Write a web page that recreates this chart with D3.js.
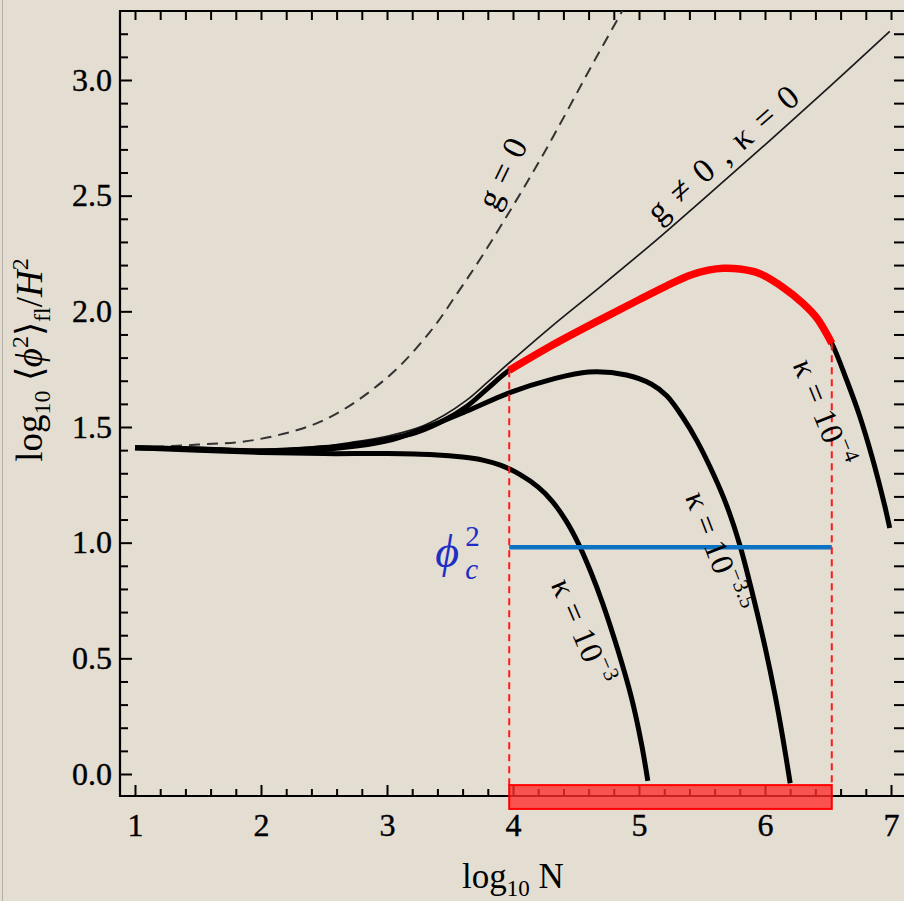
<!DOCTYPE html>
<html>
<head>
<meta charset="utf-8">
<script src="https://cdn.jsdelivr.net/npm/d3@7"></script>
<style>
  body { margin: 0; background: #e4ddd2; }
  svg { display: block; }
</style>
</head>
<body>
<div id="chart"></div>
<script>
// curves: [log10 N, log10 <phi^2>/H^2]
const gZero = [
  [1.0, 1.41], [1.5, 1.424], [1.95, 1.444], [2.5, 1.53], [3.0, 1.713],
  [3.34, 1.91], [3.56, 2.08], [3.75, 2.235], [4.0, 2.456], [4.25, 2.688],
  [4.65, 3.087], [4.9, 3.33]
];
const gNonZero = [
  [1.0, 1.41], [1.5, 1.405], [2.0, 1.40], [2.5, 1.418], [2.71, 1.433],
  [3.0, 1.46], [3.24, 1.495], [3.45, 1.55], [3.635, 1.617], [3.8, 1.695],
  [3.98, 1.782], [4.3, 1.932], [4.69, 2.105], [5.14, 2.309], [5.5, 2.48],
  [6.0, 2.72], [6.5, 2.965], [6.99, 3.21]
];
const kappa4 = [
  [1.0, 1.41], [1.5, 1.405], [2.0, 1.397], [2.5, 1.41], [2.71, 1.423],
  [3.0, 1.447], [3.24, 1.478], [3.45, 1.528], [3.635, 1.59], [3.8, 1.667],
  [3.97, 1.745], [4.3, 1.85], [4.69, 1.963], [5.0, 2.05], [5.22, 2.11],
  [5.4, 2.155], [5.55, 2.178], [5.67, 2.186], [5.8, 2.183], [5.95, 2.165],
  [6.14, 2.105], [6.3, 2.035], [6.41, 1.972], [6.53, 1.862], [6.65, 1.70],
  [6.75, 1.55], [6.85, 1.37], [6.95, 1.16], [6.99, 1.063]
];
const kappa35 = [
  [1.0, 1.41], [1.5, 1.405], [2.0, 1.395], [2.5, 1.403], [3.0, 1.44],
  [3.3, 1.495], [3.63, 1.568], [3.98, 1.65], [4.3, 1.705], [4.6, 1.738],
  [4.9, 1.725], [5.1, 1.685], [5.22, 1.635], [5.35, 1.54], [5.46, 1.44],
  [5.6, 1.285], [5.7, 1.155], [5.8, 0.99], [5.905, 0.77], [6.0, 0.55],
  [6.08, 0.34], [6.14, 0.16], [6.2, -0.04]
];
const kappa3 = [
  [1.0, 1.41], [1.5, 1.40], [2.0, 1.39], [2.5, 1.385], [3.0, 1.385],
  [3.37, 1.38], [3.6, 1.37], [3.76, 1.357], [3.9, 1.335], [4.06, 1.293],
  [4.2, 1.24], [4.31, 1.18], [4.42, 1.095], [4.52, 0.995], [4.62, 0.87],
  [4.71, 0.74], [4.83, 0.54], [4.94, 0.33], [5.02, 0.13], [5.07, -0.03]
];

const xTicks = [1, 2, 3, 4, 5, 6, 7];
const yTicks = [0, 0.5, 1, 1.5, 2, 2.5, 3];
const nWindow = [3.97, 6.53];   // red band on the N axis
const phiC = 0.98;              // log10 phi_c^2

const width = 904, height = 901;
const frame = { left: 120, right: 905, top: 11, bottom: 796 };
const serif = "'Liberation Serif', 'Times New Roman', serif";

const x = d3.scaleLinear().domain([1, 7]).range([135, 891]);
const y = d3.scaleLinear().domain([0, 3]).range([774, 80]);

const svg = d3.select("#chart").append("svg")
  .attr("width", width)
  .attr("height", height);

svg.append("rect")
  .attr("width", width).attr("height", height)
  .attr("fill", "#e4ddd2");

svg.append("line")
  .attr("x1", 2.5).attr("x2", 2.5).attr("y1", 0).attr("y2", height)
  .attr("stroke", "#b4aea4").attr("stroke-width", 1);

// ticks
const minorX = d3.range(1, 7.01, 0.2).map(d => +d.toFixed(1));
const minorY = d3.range(0, 3.25, 0.1).map(d => +d.toFixed(1)).filter(d => !yTicks.includes(d));

function styleAxis(g) {
  g.select(".domain").remove();
  g.selectAll(".tick line").attr("stroke", "#000").attr("stroke-width", 2);
  g.selectAll(".tick text")
    .attr("fill", "#000")
    .attr("stroke", "#000")
    .attr("stroke-width", 0.4)
    .style("font-family", serif)
    .style("font-size", "32px");
}

svg.append("g")
  .attr("transform", `translate(0,${frame.bottom})`)
  .call(d3.axisBottom(x).tickValues(xTicks).tickSize(-11).tickPadding(17).tickFormat(d3.format("d")))
  .call(styleAxis);
svg.append("g")
  .attr("transform", `translate(0,${frame.bottom})`)
  .call(d3.axisBottom(x).tickValues(minorX.filter(d => !xTicks.includes(d))).tickSize(-7).tickFormat(""))
  .call(styleAxis);
svg.append("g")
  .attr("transform", `translate(0,${frame.top})`)
  .call(d3.axisTop(x).tickValues(minorX).tickSize(-9).tickFormat(""))
  .call(styleAxis);
svg.append("g")
  .attr("transform", `translate(${frame.left},0)`)
  .call(d3.axisLeft(y).tickValues(yTicks).tickSize(-12).tickPadding(8).tickFormat(d3.format(".1f")))
  .call(styleAxis);
svg.append("g")
  .attr("transform", `translate(${frame.left},0)`)
  .call(d3.axisLeft(y).tickValues(minorY).tickSize(-8).tickFormat(""))
  .call(styleAxis);
svg.append("g")
  .attr("transform", `translate(${frame.right},0)`)
  .call(d3.axisRight(y).tickValues(yTicks.concat(minorY)).tickSize(-11).tickFormat(""))
  .call(styleAxis);

// frame
svg.append("path")
  .attr("d", `M${frame.right},${frame.top}H${frame.left}V${frame.bottom}H${frame.right}`)
  .attr("fill", "none")
  .attr("stroke", "#000")
  .attr("stroke-width", 2.2);

svg.append("clipPath").attr("id", "plot-clip")
  .append("rect")
  .attr("x", frame.left).attr("y", frame.top)
  .attr("width", frame.right - frame.left).attr("height", frame.bottom - frame.top);

const plot = svg.append("g").attr("clip-path", "url(#plot-clip)");

const line = d3.line()
  .x(d => x(d[0]))
  .y(d => y(d[1]))
  .curve(d3.curveCatmullRom.alpha(0.5));

plot.append("path")
  .attr("d", line(gZero))
  .attr("fill", "none").attr("stroke", "#333")
  .attr("stroke-width", 2).attr("stroke-dasharray", "11,7");

plot.append("path")
  .attr("d", line(gNonZero))
  .attr("fill", "none").attr("stroke", "#1a1a1a")
  .attr("stroke-width", 1.7);

[kappa4, kappa35, kappa3].forEach(series => {
  plot.append("path")
    .attr("d", line(series))
    .attr("fill", "none").attr("stroke", "#000")
    .attr("stroke-width", 5);
});

// red part of the kappa = 1e-4 curve inside the N window
plot.append("path")
  .attr("d", line(kappa4.filter(d => d[0] >= nWindow[0] && d[0] <= nWindow[1])))
  .attr("fill", "none").attr("stroke", "#ff0000")
  .attr("stroke-width", 7.5);

// critical value
svg.append("line")
  .attr("x1", x(nWindow[0])).attr("x2", x(nWindow[1]))
  .attr("y1", y(phiC)).attr("y2", y(phiC))
  .attr("stroke", "#0c72c4").attr("stroke-width", 4.5);

// dashed guides down to the band
const bandTop = -0.048, bandBottom = -0.151;
nWindow.forEach(n => {
  const top = kappa4.find(d => d[0] === n)[1];
  svg.append("line")
    .attr("x1", x(n)).attr("x2", x(n))
    .attr("y1", y(top)).attr("y2", y(bandTop))
    .attr("stroke", "#ff1a1a").attr("stroke-width", 2)
    .attr("stroke-dasharray", "7,5");
});

svg.append("rect")
  .attr("x", x(nWindow[0])).attr("y", y(bandTop))
  .attr("width", x(nWindow[1]) - x(nWindow[0]))
  .attr("height", y(bandBottom) - y(bandTop))
  .attr("fill", "#ff2a2a").attr("fill-opacity", 0.78)
  .attr("stroke", "#ff0000").attr("stroke-width", 2);

// curve labels
function curveLabel(nx, ny, angle, parts, size, spacing) {
  const t = svg.append("text")
    .attr("transform", `translate(${x(nx)},${y(ny)}) rotate(${angle})`)
    .attr("text-anchor", "middle")
    .attr("dy", "0.35em")
    .style("font-family", serif)
    .style("font-size", size + "px")
    .style("letter-spacing", spacing + "px")
    .attr("fill", "#000");
  parts.forEach(p => {
    const s = t.append("tspan").text(p.t);
    if (p.sup) s.attr("dy", -0.42 * size).style("font-size", (0.68 * size) + "px");
  });
}

curveLabel(3.91, 2.60, -64, [{ t: "g = 0" }], 34, 1);
curveLabel(5.667, 2.685, -41, [{ t: "g ≠ 0 , κ = 0" }], 34, 2);
curveLabel(6.468, 1.561, 68, [{ t: "κ = 10" }, { t: "−4", sup: true }], 32, 1);
curveLabel(5.627, 0.960, 69, [{ t: "κ = 10" }, { t: "−3.5", sup: true }], 32, 0.5);
curveLabel(4.556, 0.614, 67, [{ t: "κ = 10" }, { t: "−3", sup: true }], 32, 1);

// phi_c^2 label
const phiLabel = svg.append("g")
  .attr("transform", `translate(${x(nWindow[0]) - 74},${y(phiC) + 20})`)
  .attr("fill", "#1d2fc4")
  .style("font-family", serif);
phiLabel.append("text").attr("font-style", "italic").style("font-size", "46px").text("ϕ");
phiLabel.append("text").attr("x", 30).attr("y", -21).style("font-size", "29px").text("2");
phiLabel.append("text").attr("x", 30).attr("y", 12).attr("font-style", "italic").style("font-size", "29px").text("c");

// axis titles
const xTitle = svg.append("text")
  .attr("x", 513).attr("y", 888)
  .attr("text-anchor", "middle")
  .style("font-family", serif)
  .style("font-size", "35px")
  .attr("fill", "#000");
xTitle.append("tspan").text("log");
xTitle.append("tspan").attr("dy", 8).style("font-size", "23px").text("10");
xTitle.append("tspan").attr("dy", -8).text(" N");

const yTitle = svg.append("text")
  .attr("transform", "translate(42,360) rotate(-90)")
  .attr("text-anchor", "middle")
  .style("font-family", serif)
  .style("font-size", "37px")
  .attr("fill", "#000");
yTitle.append("tspan").text("log");
yTitle.append("tspan").attr("dy", 8).style("font-size", "24px").text("10");
yTitle.append("tspan").attr("dy", -8).text(" ⟨");
yTitle.append("tspan").attr("font-style", "italic").text("ϕ");
yTitle.append("tspan").attr("dy", -14).style("font-size", "24px").text("2");
yTitle.append("tspan").attr("dy", 14).text("⟩");
yTitle.append("tspan").attr("dy", 8).style("font-size", "24px").text("fl");
yTitle.append("tspan").attr("dy", -8).text("/");
yTitle.append("tspan").attr("font-style", "italic").text("H");
yTitle.append("tspan").attr("dy", -14).style("font-size", "24px").text("2");
</script>
</body>
</html>
